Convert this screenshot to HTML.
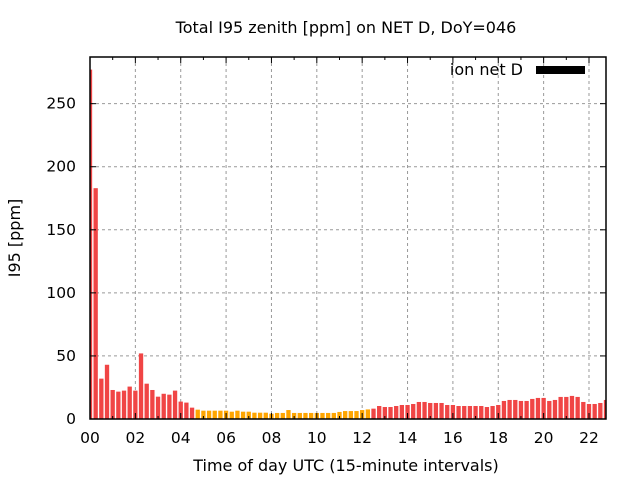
<!DOCTYPE html>
<html><head><meta charset="utf-8"><style>
body{margin:0;background:#fff;}
svg{display:block;font-family:"DejaVu Sans","Liberation Sans",sans-serif;}
</style></head><body>
<svg id="chart" width="640" height="480" viewBox="0 0 640 480">
<rect width="640" height="480" fill="#fff"/>
<text x="346" y="33" font-size="16" text-anchor="middle">Total I95 zenith [ppm] on NET D, DoY=046</text>
<text x="346" y="471" font-size="16" text-anchor="middle">Time of day UTC (15-minute intervals)</text>
<text x="20" y="238" font-size="16" text-anchor="middle" transform="rotate(-90 20 238)">I95 [ppm]</text>
<g id="grid"></g><g id="bars"></g><g id="axes"></g>
<text x="523" y="75" font-size="16" text-anchor="end">ion net D</text>
<rect x="536" y="66" width="49" height="8" fill="#000"/>
</svg>
<script>
const values=[277,183,32,43,23,21.7,22.5,25.7,22.5,52,28,23,17.7,20,19.3,22.5,13.8,13,9,7.4,6.6,6.6,6.6,6.6,6.6,5.8,6.6,5.8,5.8,5,5,5,4.2,4.8,4.8,7.1,4.8,4.8,4.8,4.8,4.8,4.8,4.8,4.8,5.6,6.3,6.3,6.3,7.1,7.6,8.2,10.3,9.5,9.5,10.3,11.1,11.1,11.9,13.5,13.5,12.7,12.7,12.7,11.1,11.1,10.3,10.3,10.3,10.3,10.3,9.5,10.3,11.1,14.3,15.1,15.1,14.3,14.3,15.9,16.7,16.7,14.3,15.1,17.5,17.5,18.3,17.5,13.5,11.9,11.9,12.7,15.1];
const yTicks=[0,50,100,150,200,250];
const xTickLabels=["00","02","04","06","08","10","12","14","16","18","20","22"];
const X0=90,X1=606,Y0=419,Y1=57,XMAX=22.75,YMAX=287;
const sx=h=>X0+h/XMAX*(X1-X0), sy=v=>Y0-v/YMAX*(Y0-Y1);
const NS="http://www.w3.org/2000/svg";
function mk(t,a,p){const e=document.createElementNS(NS,t);for(const k in a)e.setAttribute(k,a[k]);p.appendChild(e);return e;}
const grid=document.getElementById('grid'),bars=document.getElementById('bars'),axes=document.getElementById('axes');
yTicks.forEach(v=>{const y=sy(v);
 if(v>0){const g=mk('line',{x1:X0,x2:X1,y1:y,y2:y,stroke:'#999','stroke-dasharray':'3,3'},grid);
 
 }
 mk('line',{x1:X0,x2:X0+6,y1:y,y2:y,stroke:'#000'},axes);
 mk('line',{x1:X1,x2:X1-6,y1:y,y2:y,stroke:'#000'},axes);
 const t=mk('text',{x:X0-14,y:y+5,'font-size':15.5,'text-anchor':'end'},axes);t.textContent=v;
 
 });
xTickLabels.forEach((l,i)=>{const h=i*2,x=sx(h);
 if(h>0){const g=mk('line',{x1:x,x2:x,y1:Y1,y2:Y0,stroke:'#999','stroke-dasharray':'3,3'},grid);
 
 }
 mk('line',{x1:x,x2:x,y1:Y0,y2:Y0-6,stroke:'#000'},axes);
 mk('line',{x1:x,x2:x,y1:Y1,y2:Y1+6,stroke:'#000'},axes);
 const xm=sx(h+1);if(h+1<XMAX){mk('line',{x1:xm,x2:xm,y1:Y0,y2:Y0-3,stroke:'#000'},axes);mk('line',{x1:xm,x2:xm,y1:Y1,y2:Y1+3,stroke:'#000'},axes);}
 const t=mk('text',{x:x,y:443,'font-size':15.5,'text-anchor':'middle'},axes);t.textContent=l;
 
 });
const bw=0.19;
values.forEach((v,i)=>{const c=i*0.25;let l=Math.max(0,c-bw/2),r=Math.min(XMAX,c+bw/2);
 const b=mk('rect',{x:sx(l),y:sy(v),width:sx(r)-sx(l),height:Y0-sy(v),fill:v<8?'#ffa500':'#f04545'},bars);
 
 });
const f=mk('rect',{x:X0,y:Y1,width:X1-X0,height:Y0-Y1,fill:'none',stroke:'#000','stroke-width':1.5},axes);


</script>
</body></html>
